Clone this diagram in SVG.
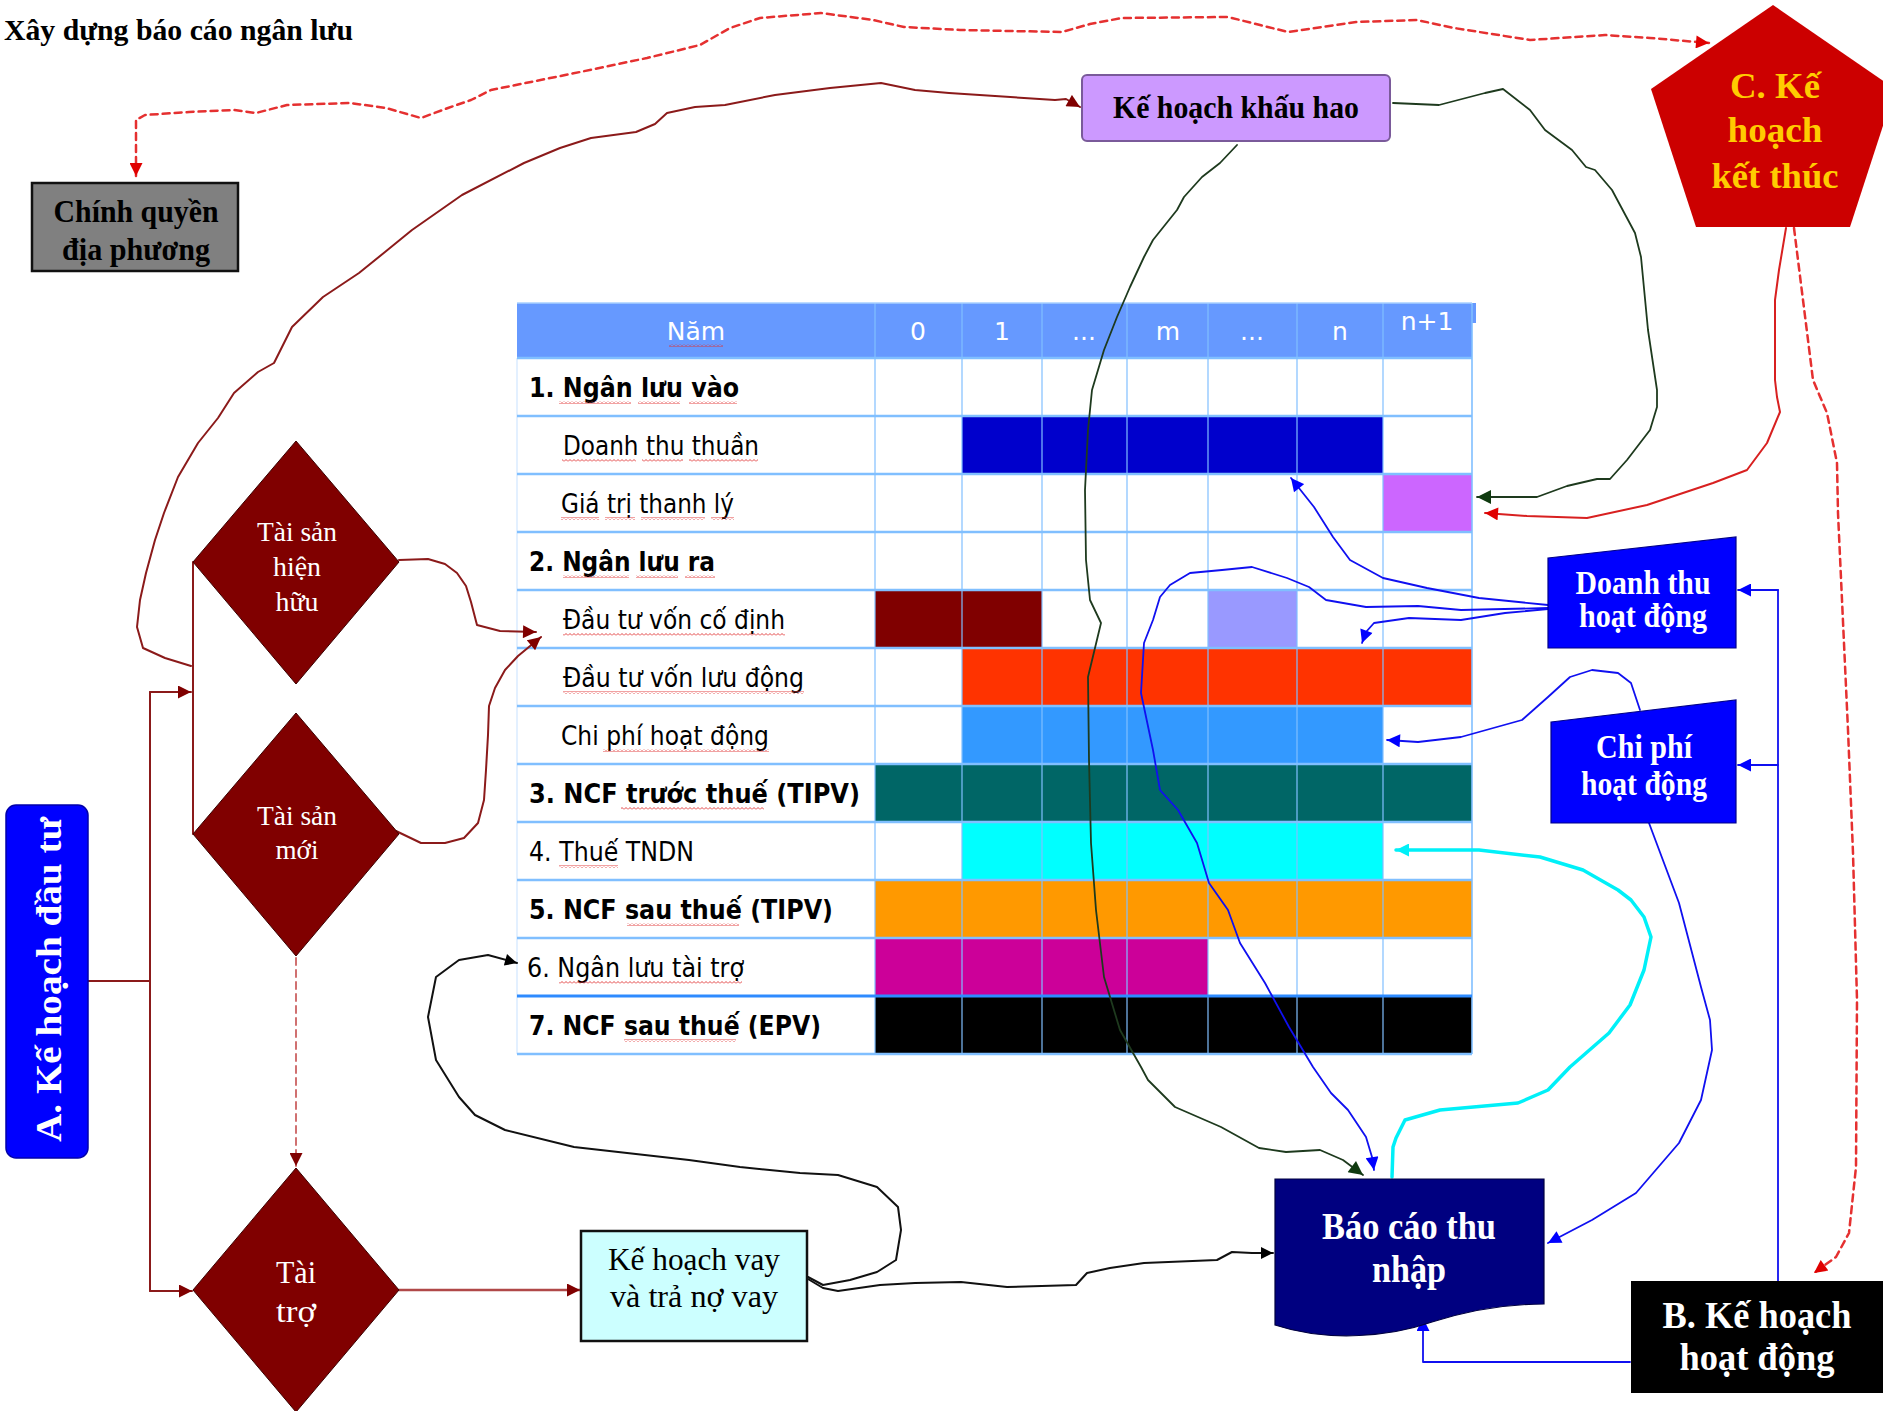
<svg xmlns="http://www.w3.org/2000/svg" width="1883" height="1411" viewBox="0 0 1883 1411">
  <defs>
    <style>
      .serif { font-family: "Liberation Serif", "Times New Roman", serif; }
      .sans { font-family: "DejaVu Sans", "Liberation Sans", sans-serif; }
      .b { font-weight: bold; }
      .lbl { font-size: 26px; fill: #000; }
      .hdr { font-size: 25px; fill: #fff; }
      .wt { fill: #fff; }
      .hgrid { stroke: #80BFFF; stroke-width: 2.5; }
      .vgrid { stroke: #80BFFF; stroke-width: 1.2; }
      .c { fill: none; stroke-linejoin: round; stroke-linecap: round; }
      .maroon { stroke: #8B1A1A; stroke-width: 2; }
      .rdash { stroke: #E53030; stroke-width: 2.5; stroke-dasharray: 7 5; }
      .red { stroke: #D82020; stroke-width: 2; }
      .green { stroke: #1E3A1E; stroke-width: 1.8; }
      .black { stroke: #111; stroke-width: 2; }
      .blue { stroke: #1010F0; stroke-width: 1.8; }
      .cyan { stroke: #00F0F8; stroke-width: 3.5; }
    </style>
    <marker id="ah-maroon" viewBox="0 0 10 10" refX="10" refY="5" markerUnits="userSpaceOnUse" markerWidth="15" markerHeight="13" orient="auto"><path d="M0,0 L10,5 L0,10 z" fill="#800000"/></marker>
    <marker id="ah-red" viewBox="0 0 10 10" refX="10" refY="5" markerUnits="userSpaceOnUse" markerWidth="15" markerHeight="13" orient="auto-start-reverse"><path d="M0,0 L10,5 L0,10 z" fill="#E00000"/></marker>
    <marker id="ah-green" viewBox="0 0 10 10" refX="10" refY="5" markerUnits="userSpaceOnUse" markerWidth="16" markerHeight="14" orient="auto"><path d="M0,0 L10,5 L0,10 z" fill="#0F3A0F"/></marker>
    <marker id="ah-black" viewBox="0 0 10 10" refX="10" refY="5" markerUnits="userSpaceOnUse" markerWidth="14" markerHeight="12" orient="auto"><path d="M0,0 L10,5 L0,10 z" fill="#000"/></marker>
    <marker id="ah-blue" viewBox="0 0 10 10" refX="10" refY="5" markerUnits="userSpaceOnUse" markerWidth="15" markerHeight="13" orient="auto"><path d="M0,0 L10,5 L0,10 z" fill="#0000FF"/></marker>
    <marker id="ah-cyan" viewBox="0 0 10 10" refX="10" refY="5" markerUnits="userSpaceOnUse" markerWidth="15" markerHeight="13" orient="auto"><path d="M0,0 L10,5 L0,10 z" fill="#00F0F8"/></marker>
    <pattern id="squiggle" patternUnits="userSpaceOnUse" width="4" height="3">
      <path d="M0,2.5 L2,0.5 L4,2.5" fill="none" stroke="#E03030" stroke-width="0.9"/>
    </pattern>
  </defs>

  <rect width="1883" height="1411" fill="#fff"/>

  <!-- page title -->
  <text id="title" class="serif b" x="4" y="40" font-size="30" textLength="349" lengthAdjust="spacingAndGlyphs">Xây dựng báo cáo ngân lưu</text>

  <!-- cash-flow table -->
  <g id="cashflow-table">
    <rect x="517" y="303" width="955" height="55" fill="#6699FF"/>
    <rect x="1472" y="303" width="4" height="20" fill="#6699FF"/>
    <rect x="517" y="358" width="955" height="696" fill="#fff"/>
    <!-- coloured period bars -->
    <rect x="962" y="416" width="421" height="58" fill="#0000CC"/>
    <rect x="1383" y="474" width="89" height="58" fill="#CC66FF"/>
    <rect x="875" y="590" width="167" height="58" fill="#800000"/>
    <rect x="1208" y="590" width="89" height="58" fill="#9999FF"/>
    <rect x="962" y="648" width="510" height="58" fill="#FF3300"/>
    <rect x="962" y="706" width="421" height="58" fill="#3399FF"/>
    <rect x="875" y="764" width="597" height="58" fill="#006666"/>
    <rect x="962" y="822" width="421" height="58" fill="#00FFFF"/>
    <rect x="875" y="880" width="597" height="58" fill="#FF9900"/>
    <rect x="875" y="938" width="333" height="58" fill="#CC0099"/>
    <rect x="875" y="996" width="597" height="58" fill="#000000"/>
    <!-- grid -->
    <g class="vgrid">
      <line x1="875" y1="303" x2="875" y2="1054"/>
      <line x1="962" y1="303" x2="962" y2="1054"/>
      <line x1="1042" y1="303" x2="1042" y2="1054"/>
      <line x1="1127" y1="303" x2="1127" y2="1054"/>
      <line x1="1208" y1="303" x2="1208" y2="1054"/>
      <line x1="1297" y1="303" x2="1297" y2="1054"/>
      <line x1="1383" y1="303" x2="1383" y2="1054"/>
      <line x1="1472" y1="303" x2="1472" y2="1054" stroke-width="1.6"/>
      <line x1="517" y1="358" x2="517" y2="1054" stroke="#D0E6FF"/>
    </g>
    <g class="hgrid">
      <line x1="517" y1="303" x2="1472" y2="303" stroke="#A8D0FF" stroke-width="1.5"/>
      <line x1="517" y1="358" x2="1472" y2="358"/>
      <line x1="517" y1="416" x2="1472" y2="416"/>
      <line x1="517" y1="474" x2="1472" y2="474"/>
      <line x1="517" y1="532" x2="1472" y2="532"/>
      <line x1="517" y1="590" x2="1472" y2="590"/>
      <line x1="517" y1="648" x2="1472" y2="648"/>
      <line x1="517" y1="706" x2="1472" y2="706"/>
      <line x1="517" y1="764" x2="1472" y2="764"/>
      <line x1="517" y1="822" x2="1472" y2="822"/>
      <line x1="517" y1="880" x2="1472" y2="880"/>
      <line x1="517" y1="938" x2="1472" y2="938"/>
      <line x1="517" y1="996" x2="1472" y2="996" stroke="#2E8BFF" stroke-width="3"/>
      <line x1="517" y1="1054" x2="1472" y2="1054"/>
    </g>
    <!-- header -->
    <g class="sans hdr" text-anchor="middle">
      <text x="696" y="340">Năm</text>
      <text x="918" y="340">0</text>
      <text x="1002" y="340">1</text>
      <text x="1084" y="340">...</text>
      <text x="1168" y="340">m</text>
      <text x="1252" y="340">...</text>
      <text x="1340" y="340">n</text>
      <text x="1427" y="330">n+1</text>
    </g>
    <!-- row labels -->
    <g class="sans lbl">
      <text class="b" x="529" y="397" textLength="210" lengthAdjust="spacingAndGlyphs">1. Ngân lưu vào</text>
      <text x="563" y="455" textLength="196" lengthAdjust="spacingAndGlyphs">Doanh thu thuần</text>
      <text x="561" y="513" textLength="173" lengthAdjust="spacingAndGlyphs">Giá trị thanh lý</text>
      <text class="b" x="529" y="571" textLength="186" lengthAdjust="spacingAndGlyphs">2. Ngân lưu ra</text>
      <text x="563" y="629" textLength="222" lengthAdjust="spacingAndGlyphs">Đầu tư vốn cố định</text>
      <text x="563" y="687" textLength="241" lengthAdjust="spacingAndGlyphs">Đầu tư vốn lưu động</text>
      <text x="561" y="745" textLength="208" lengthAdjust="spacingAndGlyphs">Chi phí hoạt động</text>
      <text class="b" x="529" y="803" textLength="331" lengthAdjust="spacingAndGlyphs">3. NCF trước thuế (TIPV)</text>
      <text x="529" y="861" textLength="165" lengthAdjust="spacingAndGlyphs">4. Thuế TNDN</text>
      <text class="b" x="529" y="919" textLength="304" lengthAdjust="spacingAndGlyphs">5. NCF sau thuế (TIPV)</text>
      <text x="527" y="977" textLength="217" lengthAdjust="spacingAndGlyphs">6. Ngân lưu tài trợ</text>
      <text class="b" x="529" y="1035" textLength="292" lengthAdjust="spacingAndGlyphs">7. NCF sau thuế (EPV)</text>
    </g>
    <!-- spell-check underlines -->
    <g fill="url(#squiggle)">
      <rect x="669" y="344" width="54" height="3"/>
      <rect x="559" y="401" width="72" height="3"/><rect x="638" y="401" width="42" height="3"/><rect x="689" y="401" width="48" height="3"/>
      <rect x="562" y="459" width="74" height="3"/><rect x="642" y="459" width="41" height="3"/><rect x="689" y="459" width="69" height="3"/>
      <rect x="561" y="517" width="38" height="3"/><rect x="605" y="517" width="30" height="3"/><rect x="641" y="517" width="64" height="3"/><rect x="711" y="517" width="23" height="3"/>
      <rect x="563" y="575" width="66" height="3"/><rect x="636" y="575" width="42" height="3"/><rect x="685" y="575" width="30" height="3"/>
      <rect x="563" y="633" width="222" height="3"/>
      <rect x="563" y="691" width="241" height="3"/>
      <rect x="603" y="749" width="166" height="3"/>
      <rect x="621" y="807" width="143" height="3"/>
      <rect x="559" y="865" width="59" height="3"/>
      <rect x="627" y="923" width="112" height="3"/>
      <rect x="559" y="981" width="183" height="3"/>
      <rect x="624" y="1039" width="112" height="3"/>
    </g>
  </g>

  <!-- connectors -->
  <g id="connectors" class="c">
    <!-- A. investment plan branches -->
    <path class="maroon" d="M88,981 H150 M150,692 V1291"/>
    <path class="maroon" d="M150,692 H191" marker-end="url(#ah-maroon)"/>
    <path class="maroon" d="M150,1291 H192" marker-end="url(#ah-maroon)"/>
    <path class="maroon" d="M193,562 V834"/>
    <!-- new assets to financing (dashed) -->
    <path d="M296,958 V1166" stroke="#D07070" stroke-width="2" stroke-dasharray="7 5" marker-end="url(#ah-maroon)"/>
    <!-- financing to loan plan -->
    <path d="M399,1290 H580" stroke="#B04848" stroke-width="2.5" marker-end="url(#ah-maroon)"/>
    <!-- assets bracket to depreciation plan -->
    <path class="maroon" marker-end="url(#ah-maroon)" d="M191,666 L165,658 L143,648 L137,627 L140,600 L146,573 L155,540 L164,513 L178,477 L198,443 L218,418 L234,393 L258,372 L274,363 L292,327 L323,297 L359,273 L385,252 L412,230 L462,195 L524,163 L560,148 L591,138 L636,132 L655,124 L667,113 L695,107 L725,105 L775,95 L830,88 L881,83 L915,90 L949,93 L1024,98 L1055,100 L1066,99 L1080,107"/>
    <!-- existing / new assets to fixed investment row -->
    <path class="maroon" marker-end="url(#ah-maroon)" d="M399,560 L428,559 L445,564 L457,573 L466,586 L471,602 L477,625 L500,631 L536,632"/>
    <path class="maroon" marker-end="url(#ah-maroon)" d="M396,831 L421,843 L445,843 L464,838 L478,823 L484,800 L486,770 L488,735 L489,706 L495,688 L505,670 L518,656 L541,637"/>
    <!-- local government <-> closing plan (dashed, both ends) -->
    <path class="rdash" marker-start="url(#ah-red)" marker-end="url(#ah-red)" d="M136,176 L136,120 L145,115 L189,112 L234,110 L256,113 L287,105 L350,103 L386,108 L421,118 L448,108 L471,100 L491,90 L580,72 L647,58 L700,45 L730,28 L760,18 L821,13 L873,20 L904,27 L960,30 L1062,32 L1090,24 L1122,18 L1228,17 L1260,25 L1288,32 L1356,22 L1417,20 L1454,28 L1530,40 L1605,35 L1650,38 L1709,43"/>
    <!-- depreciation plan to income statement -->
    <path class="green" marker-end="url(#ah-green)" d="M1237,145 L1220,163 L1202,177 L1184,197 L1177,210 L1153,240 L1144,257 L1130,287 L1117,317 L1104,350 L1092,390 L1088,430 L1085,490 L1086,560 L1090,600 L1101,623 L1088,677 L1089,760 L1091,843 L1096,910 L1104,977 L1120,1030 L1141,1067 L1148,1080 L1175,1107 L1221,1127 L1259,1148 L1286,1152 L1320,1150 L1343,1160 L1363,1175"/>
    <!-- depreciation plan to salvage value -->
    <path class="green" marker-end="url(#ah-green)" d="M1393,103 L1439,105 L1485,93 L1503,89 L1530,110 L1545,130 L1572,150 L1586,167 L1595,170 L1612,190 L1635,233 L1641,257 L1648,330 L1657,390 L1657,407 L1650,430 L1627,460 L1610,479 L1597,479 L1567,486 L1537,497 L1477,497"/>
    <!-- closing plan to salvage value -->
    <path class="red" marker-end="url(#ah-red)" d="M1786,228 L1779,270 L1775,300 L1775,380 L1777,397 L1780,412 L1767,443 L1747,470 L1713,483 L1647,505 L1587,518 L1527,516 L1485,513"/>
    <!-- closing plan to operating plan (dashed) -->
    <path class="rdash" marker-end="url(#ah-red)" d="M1794,228 L1803,300 L1813,380 L1827,413 L1837,463 L1838,513 L1842,600 L1848,730 L1853,853 L1857,1000 L1856,1167 L1849,1233 L1836,1257 L1814,1273"/>
    <!-- loan plan to financing row and to income statement -->
    <path class="black" marker-end="url(#ah-black)" d="M808,1277 L823,1285 L850,1280 L877,1272 L896,1260 L901,1230 L898,1207 L877,1187 L838,1175 L800,1173 L740,1167 L689,1160 L574,1147 L505,1130 L475,1115 L459,1097 L436,1060 L428,1017 L436,977 L459,960 L488,955 L517,963"/>
    <path class="black" marker-end="url(#ah-black)" d="M808,1279 L823,1288 L838,1291 L880,1285 L915,1283 L961,1282 L1007,1287 L1076,1285 L1087,1273 L1110,1268 L1144,1263 L1217,1260 L1232,1252 L1252,1253 L1273,1253"/>
    <!-- operating revenue branches -->
    <path class="blue" marker-end="url(#ah-blue)" d="M1548,605 L1479,598 L1427,588 L1383,578 L1350,560 L1333,537 L1314,507 L1291,478"/>
    <path class="blue" marker-end="url(#ah-blue)" d="M1548,608 L1461,610 L1418,606 L1366,607 L1326,600 L1309,587 L1287,578 L1252,567 L1222,570 L1190,573 L1170,585 L1160,597 L1153,620 L1144,643 L1141,693 L1153,750 L1160,790 L1178,810 L1197,843 L1209,883 L1228,910 L1240,943 L1265,983 L1289,1027 L1313,1067 L1331,1093 L1348,1110 L1366,1137 L1372,1157 L1374,1170"/>
    <path class="blue" marker-end="url(#ah-blue)" d="M1548,609 L1505,613 L1461,620 L1409,618 L1374,623 L1366,632 L1362,643"/>
    <!-- operating cost branches -->
    <path class="blue" marker-end="url(#ah-blue)" d="M1640,710 L1631,683 L1618,673 L1592,670 L1570,677 L1548,697 L1522,720 L1461,737 L1418,742 L1387,740"/>
    <path class="blue" marker-end="url(#ah-blue)" d="M1649,823 L1679,903 L1701,987 L1710,1020 L1712,1050 L1701,1100 L1679,1143 L1636,1193 L1592,1220 L1548,1243"/>
    <!-- income statement to corporate tax row -->
    <path class="cyan" marker-end="url(#ah-cyan)" d="M1392,1177 L1393,1147 L1396,1138 L1405,1120 L1440,1110 L1518,1103 L1548,1090 L1570,1067 L1609,1033 L1630,1005 L1644,970 L1651,937 L1644,917 L1631,900 L1618,890 L1583,870 L1540,857 L1479,850 L1418,850 L1396,850"/>
    <!-- operating plan feeds -->
    <path class="blue" d="M1778,1281 V590"/>
    <path class="blue" marker-end="url(#ah-blue)" d="M1778,590 H1738"/>
    <path class="blue" marker-end="url(#ah-blue)" d="M1778,765 H1738"/>
    <path class="blue" marker-end="url(#ah-blue)" stroke-width="2.2" d="M1630,1362 H1423 V1318"/>
  </g>

  <!-- nodes -->
  <g id="local-government">
    <rect x="32" y="183" width="206" height="88" fill="#808080" stroke="#111" stroke-width="2.5"/>
    <text class="serif b" x="136" y="222" font-size="32" text-anchor="middle" textLength="165" lengthAdjust="spacingAndGlyphs">Chính quyền</text>
    <text class="serif b" x="136" y="260" font-size="32" text-anchor="middle" textLength="148" lengthAdjust="spacingAndGlyphs">địa phương</text>
  </g>

  <g id="depreciation-plan">
    <rect x="1082" y="75" width="308" height="66" rx="5" fill="#CC99FF" stroke="#7A5A9A" stroke-width="2"/>
    <text class="serif b" x="1236" y="118" font-size="32" text-anchor="middle" textLength="246" lengthAdjust="spacingAndGlyphs">Kế hoạch khấu hao</text>
  </g>

  <g id="closing-plan">
    <polygon points="1773,5 1895,89 1850,227 1696,227 1651,89" fill="#CC0000"/>
    <g class="serif b" font-size="36" fill="#FFCC00" text-anchor="middle">
      <text x="1775" y="98" textLength="90" lengthAdjust="spacingAndGlyphs">C. Kế</text>
      <text x="1775" y="142" textLength="95" lengthAdjust="spacingAndGlyphs">hoạch</text>
      <text x="1775" y="188" textLength="127" lengthAdjust="spacingAndGlyphs">kết thúc</text>
    </g>
  </g>

  <g id="investment-plan">
    <rect x="6" y="805" width="82" height="353" rx="10" fill="#0000FF" stroke="#0000AA" stroke-width="1.5"/>
    <text class="serif b wt" transform="translate(61,1142) rotate(-90)" font-size="36" textLength="325" lengthAdjust="spacingAndGlyphs">A. Kế hoạch đầu tư</text>
  </g>

  <g id="existing-assets">
    <polygon points="296,441 399,562 296,684 193,562" fill="#800000" stroke="#3A0000" stroke-width="1"/>
    <g class="serif wt" font-size="28" text-anchor="middle">
      <text x="297" y="541" textLength="80" lengthAdjust="spacingAndGlyphs">Tài sản</text>
      <text x="297" y="576" textLength="48" lengthAdjust="spacingAndGlyphs">hiện</text>
      <text x="297" y="611" textLength="43" lengthAdjust="spacingAndGlyphs">hữu</text>
    </g>
  </g>

  <g id="new-assets">
    <polygon points="296,713 399,834 296,956 193,834" fill="#800000" stroke="#3A0000" stroke-width="1"/>
    <g class="serif wt" font-size="28" text-anchor="middle">
      <text x="297" y="825" textLength="80" lengthAdjust="spacingAndGlyphs">Tài sản</text>
      <text x="297" y="859" textLength="43" lengthAdjust="spacingAndGlyphs">mới</text>
    </g>
  </g>

  <g id="financing">
    <polygon points="296,1168 399,1290 296,1412 193,1290" fill="#800000" stroke="#3A0000" stroke-width="1"/>
    <g class="serif wt" font-size="32" text-anchor="middle">
      <text x="296" y="1283" textLength="40" lengthAdjust="spacingAndGlyphs">Tài</text>
      <text x="296" y="1322" textLength="40" lengthAdjust="spacingAndGlyphs">trợ</text>
    </g>
  </g>

  <g id="loan-plan">
    <rect x="581" y="1231" width="226" height="110" fill="#CCFFFF" stroke="#111" stroke-width="2.5"/>
    <g class="serif" font-size="32" text-anchor="middle">
      <text x="694" y="1270" textLength="172" lengthAdjust="spacingAndGlyphs">Kế hoạch vay</text>
      <text x="694" y="1307" textLength="168" lengthAdjust="spacingAndGlyphs">và trả nợ vay</text>
    </g>
  </g>

  <g id="operating-revenue">
    <polygon points="1548,558 1736,537 1736,648 1548,648" fill="#0000FF" stroke="#00008A" stroke-width="1.2"/>
    <g class="serif b wt" font-size="33" text-anchor="middle">
      <text x="1643" y="594" textLength="135" lengthAdjust="spacingAndGlyphs">Doanh thu</text>
      <text x="1643" y="627" textLength="128" lengthAdjust="spacingAndGlyphs">hoạt động</text>
    </g>
  </g>

  <g id="operating-cost">
    <polygon points="1551,722 1736,700 1736,823 1551,823" fill="#0000FF" stroke="#00008A" stroke-width="1.2"/>
    <g class="serif b wt" font-size="33" text-anchor="middle">
      <text x="1644" y="758" textLength="96" lengthAdjust="spacingAndGlyphs">Chi phí</text>
      <text x="1644" y="795" textLength="126" lengthAdjust="spacingAndGlyphs">hoạt động</text>
    </g>
  </g>

  <g id="income-statement">
    <path d="M1275,1179 H1544 V1304 C1505,1304 1470,1310 1432,1322 C1392,1336 1330,1343 1275,1325 Z" fill="#000080" stroke="#000040" stroke-width="1.2"/>
    <g class="serif b wt" font-size="38" text-anchor="middle">
      <text x="1409" y="1239" textLength="174" lengthAdjust="spacingAndGlyphs">Báo cáo thu</text>
      <text x="1409" y="1282" textLength="74" lengthAdjust="spacingAndGlyphs">nhập</text>
    </g>
  </g>

  <g id="operating-plan">
    <rect x="1631" y="1281" width="252" height="112" fill="#000"/>
    <g class="serif b wt" font-size="38" text-anchor="middle">
      <text x="1757" y="1328" textLength="189" lengthAdjust="spacingAndGlyphs">B. Kế hoạch</text>
      <text x="1757" y="1370" textLength="155" lengthAdjust="spacingAndGlyphs">hoạt động</text>
    </g>
  </g>
</svg>
